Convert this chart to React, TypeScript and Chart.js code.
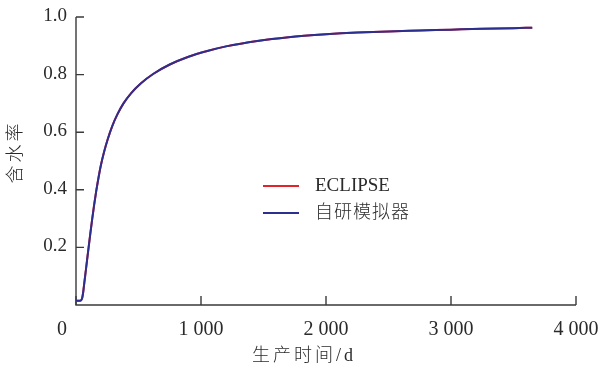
import React, { useEffect, useRef } from "react";
import { Chart, registerables } from "chart.js";

Chart.register(...registerables);

// Production time (days) and water cut for both simulators
const DAYS = [0, 30, 42, 50, 58, 66, 80, 98, 114, 130, 146, 162, 180, 200, 225, 255, 290, 330, 380, 440, 520, 620, 750, 900, 1050, 1200, 1450, 1700, 2000, 2250, 2500, 2750, 3000, 3250, 3500, 3650];
const ECLIPSE_WC = [0.015, 0.015, 0.017, 0.025, 0.046, 0.075, 0.125, 0.19, 0.246, 0.3, 0.35, 0.396, 0.442, 0.487, 0.532, 0.577, 0.621, 0.661, 0.7, 0.735, 0.77, 0.803, 0.835, 0.862, 0.882, 0.898, 0.917, 0.93, 0.94, 0.946, 0.95, 0.953, 0.956, 0.959, 0.961, 0.963];
const SIM_WC = [0.015, 0.015, 0.017, 0.025, 0.046, 0.075, 0.125, 0.19, 0.246, 0.3, 0.35, 0.396, 0.442, 0.487, 0.532, 0.577, 0.621, 0.661, 0.7, 0.735, 0.77, 0.803, 0.835, 0.862, 0.882, 0.898, 0.917, 0.93, 0.94, 0.946, 0.95, 0.953, 0.956, 0.959, 0.961, 0.963];

const X_TICKS = [0, 1000, 2000, 3000, 4000];
const X_TICK_LABELS = ["0", "1 000", "2 000", "3 000", "4 000"];
const Y_TICKS = [0.2, 0.4, 0.6, 0.8, 1.0];
const Y_TICK_LABELS = ["0.2", "0.4", "0.6", "0.8", "1.0"];

const SERIES_NAMES = ["ECLIPSE", "自研模拟器"];
const SERIES_COLORS = ["#e3232c", "#2d2f8e"];
const X_TITLE = "生产时间/d";
const Y_TITLE = "含水率";

const Y_NUM_FONT = '19px "Liberation Serif", "Times New Roman", serif';
const X_NUM_FONT = '20px "Liberation Serif", "Times New Roman", serif';
const CJK_FONT = '300 18px "Liberation Serif", "Noto Sans CJK SC", serif';
const AXIS_COLOR = "#3a3a3a";
const TEXT_COLOR = "#2a2a2a";

// Axis lines with inward tick marks, drawn beneath the curves
const axesPlugin = {
  id: "inwardAxes",
  beforeDatasetsDraw(chart: any) {
    const { ctx } = chart;
    const xs = chart.scales.x;
    const ys = chart.scales.y;
    const x0 = xs.getPixelForValue(0);
    const x1 = xs.getPixelForValue(4000);
    const y0 = ys.getPixelForValue(0);
    const y1 = ys.getPixelForValue(1);
    ctx.save();
    ctx.strokeStyle = AXIS_COLOR;
    ctx.lineWidth = 1.4;
    ctx.beginPath();
    ctx.moveTo(x0, y1);
    ctx.lineTo(x0, y0);
    ctx.lineTo(x1, y0);
    ctx.stroke();
    ctx.beginPath();
    for (const t of Y_TICKS) {
      const y = ys.getPixelForValue(t);
      ctx.moveTo(x0, y);
      ctx.lineTo(x0 + 8, y);
    }
    for (const t of X_TICKS) {
      const x = xs.getPixelForValue(t);
      ctx.moveTo(x, y0);
      ctx.lineTo(x, y0 - 9);
    }
    ctx.stroke();
    ctx.restore();
  },
  afterDraw(chart: any) {
    const { ctx } = chart;
    const xs = chart.scales.x;
    const ys = chart.scales.y;
    const x0 = xs.getPixelForValue(0);
    const y0 = ys.getPixelForValue(0);
    ctx.save();
    ctx.fillStyle = TEXT_COLOR;
    // y tick labels
    ctx.font = Y_NUM_FONT;
    ctx.textAlign = "right";
    ctx.textBaseline = "middle";
    Y_TICKS.forEach((t, i) => {
      ctx.fillText(Y_TICK_LABELS[i], x0 - 9, ys.getPixelForValue(t) - 1);
    });
    // x tick labels (the shared origin sits at the corner)
    ctx.font = X_NUM_FONT;
    ctx.textAlign = "center";
    X_TICKS.forEach((t, i) => {
      const x = t === 0 ? x0 - 14 : xs.getPixelForValue(t);
      ctx.fillText(X_TICK_LABELS[i], x, y0 + 25);
    });
    // axis titles
    ctx.font = CJK_FONT;
    (ctx as any).letterSpacing = "3px";
    ctx.textAlign = "center";
    ctx.fillText(X_TITLE, 304, y0 + 51);
    ctx.save();
    ctx.translate(16, 152);
    ctx.rotate(-Math.PI / 2);
    ctx.fillText(Y_TITLE, 0, 0);
    ctx.restore();
    (ctx as any).letterSpacing = "0px";
    // legend inside the plot
    const lx = 263;
    const rows = [186, 213];
    ctx.textAlign = "left";
    SERIES_NAMES.forEach((name, i) => {
      ctx.strokeStyle = SERIES_COLORS[i];
      ctx.lineWidth = 1.8;
      ctx.beginPath();
      ctx.moveTo(lx, rows[i]);
      ctx.lineTo(lx + 36, rows[i]);
      ctx.stroke();
      ctx.fillStyle = TEXT_COLOR;
      if (i === 0) {
        ctx.font = Y_NUM_FONT;
        (ctx as any).letterSpacing = "0px";
      } else {
        ctx.font = CJK_FONT;
        (ctx as any).letterSpacing = "1px";
      }
      ctx.fillText(name, 315, rows[i]);
    });
    (ctx as any).letterSpacing = "0px";
    ctx.restore();
  },
};

export default function App() {
  const canvasRef = useRef<HTMLCanvasElement | null>(null);

  useEffect(() => {
    if (!canvasRef.current) return;
    const series = [ECLIPSE_WC, SIM_WC];
    const chart = new Chart(canvasRef.current, {
      type: "line",
      data: {
        datasets: series.map((vals, i) => ({
          label: SERIES_NAMES[i],
          data: DAYS.map((d, k) => ({ x: d, y: vals[k] })),
          borderColor: SERIES_COLORS[i],
          backgroundColor: SERIES_COLORS[i],
          borderWidth: 2,
          pointRadius: 0,
          cubicInterpolationMode: "monotone" as const,
          fill: false,
          // the in-house simulator curve is drawn over the ECLIPSE one
          order: i === 0 ? 1 : 0,
        })),
      },
      options: {
        animation: false,
        responsive: false,
        devicePixelRatio: 1,
        layout: { padding: { left: 76, right: 25, top: 17, bottom: 67 } },
        plugins: {
          legend: { display: false },
          tooltip: { enabled: false },
        },
        scales: {
          x: {
            type: "linear",
            min: 0,
            max: 4000,
            grid: { display: false },
            border: { display: false },
            ticks: { display: false },
            afterFit: (s: any) => {
              s.height = 0;
            },
          },
          y: {
            type: "linear",
            min: 0,
            max: 1,
            grid: { display: false },
            border: { display: false },
            ticks: { display: false },
            afterFit: (s: any) => {
              s.width = 0;
            },
          },
        },
      },
      plugins: [axesPlugin],
    });
    return () => chart.destroy();
  }, []);

  return (
    <div style={{ position: "absolute", left: 0, top: 0, width: 601, height: 372, background: "#fff" }}>
      <canvas ref={canvasRef} width={601} height={372} style={{ display: "block" }} />
    </div>
  );
}
